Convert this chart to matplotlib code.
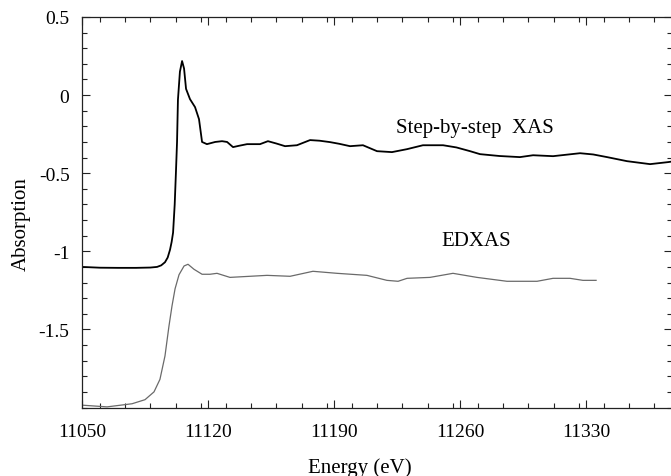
import matplotlib
matplotlib.use("Agg")
import matplotlib.pyplot as plt
from matplotlib.ticker import MultipleLocator, FixedLocator

# ---- data ----
step_energy = [11050, 11060, 11070, 11080, 11088, 11091.7, 11094, 11096.1, 11097.6, 11098.9,
               11099.8, 11100.6, 11101.5, 11102.2, 11102.8, 11103.3, 11104.4, 11105.6,
               11106.7, 11107.8, 11110, 11112.8, 11115, 11116.7, 11119.4, 11124, 11127.8,
               11130.6, 11133.9, 11137, 11141.7, 11148.9, 11153.3, 11158, 11162.8, 11169.4,
               11176.7, 11182, 11187.8, 11193, 11198.9, 11206.1, 11213.9, 11222.2, 11230.6,
               11239.4, 11250.6, 11258, 11265.6, 11271.1, 11282, 11293.3, 11300.6, 11311.7,
               11326.7, 11334, 11341.7, 11352.8, 11365.6, 11375.6, 11378]
step_absorb = [-1.100, -1.105, -1.106, -1.106, -1.104, -1.100, -1.090, -1.070, -1.040, -0.990,
               -0.940, -0.880, -0.700, -0.490, -0.300, -0.030, 0.150, 0.218,
               0.170, 0.040, -0.026, -0.077, -0.154, -0.300, -0.314, -0.300, -0.295,
               -0.300, -0.333, -0.325, -0.314, -0.314, -0.295, -0.310, -0.327, -0.321,
               -0.288, -0.292, -0.301, -0.312, -0.327, -0.321, -0.359, -0.365, -0.346,
               -0.321, -0.321, -0.335, -0.359, -0.378, -0.390, -0.397, -0.385, -0.391,
               -0.372, -0.380, -0.397, -0.423, -0.442, -0.429, -0.425]

ed_energy = [11050, 11063.9, 11077.8, 11085, 11090, 11093.3, 11096.1, 11098.3, 11100,
             11101.7, 11103.9, 11106.7, 11108.9, 11112.2, 11116.7, 11121.1, 11125,
             11132.2, 11152.8, 11165.6, 11178.3, 11191.7, 11208.3, 11219.4, 11225.6,
             11230.6, 11243.3, 11256.1, 11269.4, 11286.1, 11302.8, 11311.7, 11321.1,
             11328.3, 11335.6]
ed_absorb = [-1.985, -1.996, -1.976, -1.950, -1.900, -1.820, -1.670, -1.480, -1.350,
             -1.240, -1.150, -1.094, -1.083, -1.115, -1.147, -1.147, -1.141,
             -1.167, -1.154, -1.160, -1.128, -1.141, -1.154, -1.186, -1.192,
             -1.173, -1.167, -1.141, -1.167, -1.192, -1.192, -1.173, -1.173,
             -1.186, -1.186]

x_ticks = [11050, 11120, 11190, 11260, 11330]
x_labels = ["11050", "11120", "11190", "11260", "11330"]
y_ticks = [-1.5, -1.0, -0.5, 0.0, 0.5]
y_labels = ["-1.5", "-1", "-0.5", "0", "0.5"]

W, H = 671, 477
fig = plt.figure(figsize=(W / 100, H / 100), dpi=100)
plt.rcParams['font.family'] = ['Liberation Serif', 'DejaVu Serif']

left, right, top, bottom = 82, 672, 18, 408.5
ax = fig.add_axes([left / W, (H - bottom) / H, (right - left) / W, (bottom - top) / H])

ax.plot(step_energy, step_absorb, color='black', lw=1.3)
ax.plot(ed_energy, ed_absorb, color='#6a6a6a', lw=0.9)

ax.set_xlim(11050, 11050 + (right - left) / 1.8)
ax.set_ylim(-2.0, 0.5)

ax.xaxis.set_major_locator(FixedLocator(x_ticks))
ax.set_xticklabels(x_labels)
ax.xaxis.set_minor_locator(MultipleLocator(14))
ax.yaxis.set_major_locator(FixedLocator(y_ticks))
ax.set_yticklabels(y_labels)
ax.yaxis.set_minor_locator(MultipleLocator(0.1))

ax.tick_params(which='both', direction='in', top=True, right=True, width=0.8, color='#222222')
ax.tick_params(which='major', length=6)
ax.tick_params(which='minor', length=3.5)
ax.tick_params(axis='x', which='major', labelsize=14, pad=11)
ax.tick_params(axis='y', which='major', labelsize=14, pad=9)
for s in ax.spines.values():
    s.set_linewidth(0.9)
    s.set_color('#222222')

ax.text(11268, -0.205, "Step-by-step  XAS", fontsize=15, ha='center', va='center')
ax.text(11269, -0.93, "EDXAS", fontsize=15, ha='center', va='center')

fig.text(360 / W, 1 - 458 / H, "Energy (eV)", fontsize=15, ha='center', va='top')
fig.text(21 / W, 1 - 224 / H, "Absorption", fontsize=15, ha='center', va='center', rotation=90)

fig.savefig("out.png", dpi=100)
